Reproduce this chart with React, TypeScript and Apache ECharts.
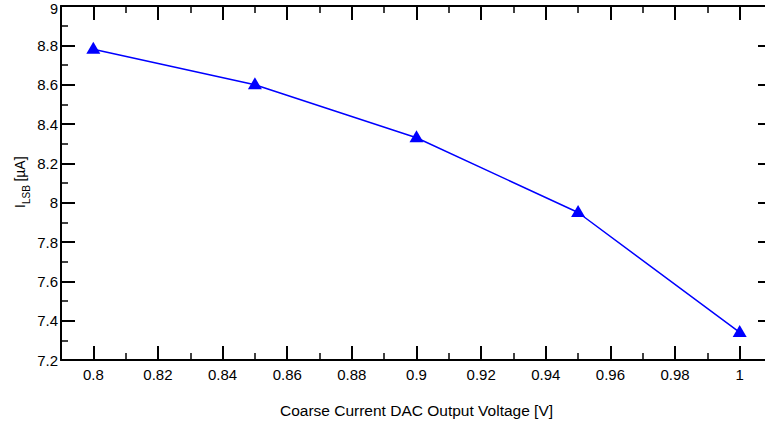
import React, { useEffect, useRef } from "react";
import * as echarts from "echarts";

const voltages = [0.8, 0.85, 0.9, 0.95, 1.0];
const iLsb = [8.78, 8.6, 8.33, 7.95, 7.34];
const xMajorTicks = [0.8, 0.82, 0.84, 0.86, 0.88, 0.9, 0.92, 0.94, 0.96, 0.98, 1.0];
const xAxisTitle = "Coarse Current DAC Output Voltage [V]";

const FONT = "'Liberation Sans', Arial, Helvetica, sans-serif";

export default function App() {
  const ref = useRef<HTMLDivElement>(null);
  useEffect(() => {
    if (!ref.current) return;
    const chart = echarts.init(ref.current, null, { renderer: "svg" });
    const axisLine = { show: true, lineStyle: { color: "#000", width: 2 } };
    const xBase = { type: "value", min: 0.79, max: 1.01, interval: 0.01, splitLine: { show: false } };
    const xMinor = (pos: string) => ({
      ...xBase,
      position: pos,
      axisLine,
      axisTick: { show: true, inside: true, length: 7, lineStyle: { color: "#000", width: 1.5 } },
      axisLabel: { show: false },
    });
    const xMajor = (pos: string, labels: boolean) => ({
      ...xBase,
      position: pos,
      axisLine: { show: false },
      axisTick: { show: true, inside: true, length: 14, customValues: xMajorTicks, lineStyle: { color: "#000", width: 2 } },
      axisLabel: {
        show: true,
        customValues: xMajorTicks,
        margin: 7,
        color: labels ? "#000" : "rgba(0,0,0,0)",
        fontSize: 15,
        fontFamily: FONT,
        formatter: (v: number) => (labels ? String(Number(v.toFixed(2))) : ""),
      },
    });
    const yAx = (pos: string, labels: boolean) => ({
      type: "value",
      position: pos,
      min: 7.2,
      max: 9,
      interval: 0.2,
      splitLine: { show: false },
      axisLine,
      axisTick: { show: true, inside: true, length: 14, lineStyle: { color: "#000", width: 2 } },
      minorTick: { show: true, splitNumber: 2, length: 7, lineStyle: { color: "#000", width: 1.5 } },
      minorSplitLine: { show: false },
      axisLabel: {
        show: labels,
        margin: 3,
        color: "#000",
        fontSize: 15,
        fontFamily: FONT,
        formatter: (v: number) => {
          const s = String(Number(v.toFixed(1)));
          return v > 8.95 ? "{t|" + s + "}" : s;
        },
        rich: {
          t: { fontSize: 14.5, fontFamily: FONT, color: "#000", padding: [5, 0, 0, 0] },
        },
      },
    });
    chart.setOption({
      animation: false,
      backgroundColor: "#fff",
      grid: { left: 61, top: 6, width: 711, height: 354, containLabel: false, outerBoundsMode: "none" },
      xAxis: [
        {
          ...xMinor("bottom"),
          name: xAxisTitle,
          nameLocation: "middle",
          nameGap: 42,
          nameTextStyle: { color: "#000", fontSize: 15.5, fontFamily: FONT },
        },
        xMajor("bottom", true),
        xMinor("top"),
        xMajor("top", false),
      ],
      yAxis: [yAx("left", true), yAx("right", false)],
      graphic: [
        {
          type: "group",
          x: 19.5,
          y: 183,
          rotation: Math.PI / 2,
          children: [
            { type: "text", x: -25, y: 0, style: { text: "I", fontSize: 14, fontFamily: FONT, fill: "#000", textAlign: "left", textVerticalAlign: "middle" } },
            { type: "text", x: -21.1, y: 7, style: { text: "LSB", fontSize: 10, fontFamily: FONT, fill: "#000", textAlign: "left", textVerticalAlign: "middle" } },
            { type: "text", x: -2.5, y: 0, style: { text: " [µA]", fontSize: 14, fontFamily: FONT, fill: "#000", textAlign: "left", textVerticalAlign: "middle" } },
          ],
        },
      ],
      series: [
        {
          type: "line",
          xAxisIndex: 0,
          yAxisIndex: 0,
          data: voltages.map((v, i) => [v, iLsb[i]]),
          symbol: "triangle",
          symbolSize: [14, 12],
          symbolOffset: [0, -1.5],
          lineStyle: { color: "#0000ff", width: 1.5 },
          itemStyle: { color: "#0000ff" },
        },
      ],
    });
    return () => chart.dispose();
  }, []);
  return <div ref={ref} style={{ width: 765, height: 421, position: "absolute", left: 0, top: 0 }} />;
}
